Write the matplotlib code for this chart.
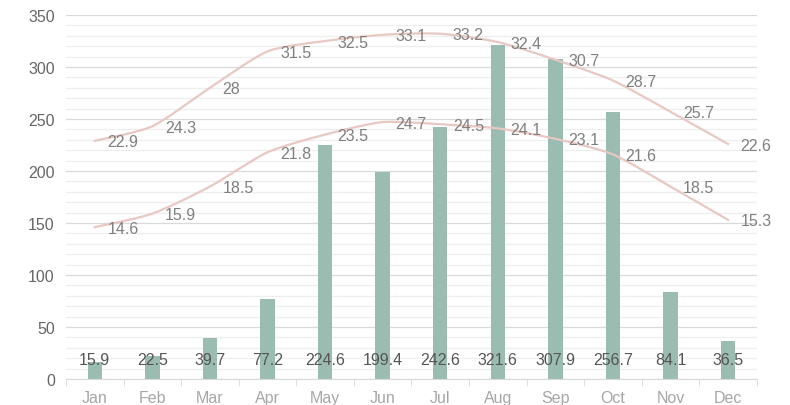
import numpy as np
import matplotlib.pyplot as plt
from matplotlib.ticker import MultipleLocator

months = ['Jan', 'Feb', 'Mar', 'Apr', 'May', 'Jun', 'Jul', 'Aug', 'Sep', 'Oct', 'Nov', 'Dec']
rain = [15.9, 22.5, 39.7, 77.2, 224.6, 199.4, 242.6, 321.6, 307.9, 256.7, 84.1, 36.5]
high = [22.9, 24.3, 28, 31.5, 32.5, 33.1, 33.2, 32.4, 30.7, 28.7, 25.7, 22.6]
low = [14.6, 15.9, 18.5, 21.8, 23.5, 24.7, 24.5, 24.1, 23.1, 21.6, 18.5, 15.3]

plt.rcParams['font.family'] = ['Liberation Sans', 'DejaVu Sans']


def smooth(x, y, n=20, k=0.7):
    # bezier curve through the points (softened catmull-rom), for drawing only
    x = np.asarray(x, float)
    y = np.asarray(y, float)
    pts = np.column_stack([x, y])
    ext = np.vstack([pts[0], pts, pts[-1]])
    t = np.linspace(0, 1, n, endpoint=False)[:, None]
    out = []
    for i in range(1, len(ext) - 2):
        p0, p1, p2, p3 = ext[i - 1], ext[i], ext[i + 1], ext[i + 2]
        c1 = p1 + k * (p2 - p0) / 6
        c2 = p2 - k * (p3 - p1) / 6
        seg = ((1 - t) ** 3) * p1 + 3 * ((1 - t) ** 2) * t * c1 + 3 * (1 - t) * t ** 2 * c2 + t ** 3 * p2
        out.append(seg)
    out.append(pts[-1:])
    out = np.vstack(out)
    return out[:, 0], out[:, 1]


fig = plt.figure(figsize=(7.9, 4.06), dpi=100)
ax = fig.add_axes([0.0835, 0.064, 0.8745, 0.8966])
x = np.arange(len(months))

ax.bar(x, rain, width=0.25, color='#9bbcb1', zorder=2)
for xi, v in zip(x, rain):
    ax.text(xi, 19, f'{v}', ha='center', va='center', fontsize=11.5, color='#555555', zorder=5)

ax.set_xlim(-0.5, 11.5)
ax.set_ylim(0, 350)
ax.yaxis.set_major_locator(MultipleLocator(50))
ax.yaxis.set_minor_locator(MultipleLocator(10))
ax.grid(axis='y', which='major', color='#d9d9d9', linewidth=0.9, zorder=0)
ax.grid(axis='y', which='minor', color='#eeeeee', linewidth=0.9, zorder=0)
ax.set_axisbelow(True)
for s in ['top', 'right', 'left']:
    ax.spines[s].set_visible(False)
ax.spines['bottom'].set_color('#d9d9d9')
ax.set_xticks(x)
ax.set_xticklabels(months)
ax.set_xticks(np.arange(-0.5, 12, 1), minor=True)
ax.tick_params(axis='x', which='major', length=0, labelsize=11.5, labelcolor='#a6a6a6', pad=8)
ax.tick_params(axis='x', which='minor', length=5, color='#d9d9d9')
ax.tick_params(axis='y', which='both', length=0, labelsize=11.5, labelcolor='#666666', pad=8)

ax2 = ax.twinx()
ax2.set_ylim(0, 35)
ax2.axis('off')
for series in (high, low):
    sx, sy = smooth(x, series)
    ax2.plot(sx, sy, color='#e8c8c0', linewidth=1.6, zorder=3)
    for xi, v in zip(x, series):
        ax2.text(xi + 0.22, v - 0.1, f'{v}', ha='left', va='center', fontsize=11.5, color='#7f7f7f', zorder=5)

fig.savefig('out.png', dpi=100)
